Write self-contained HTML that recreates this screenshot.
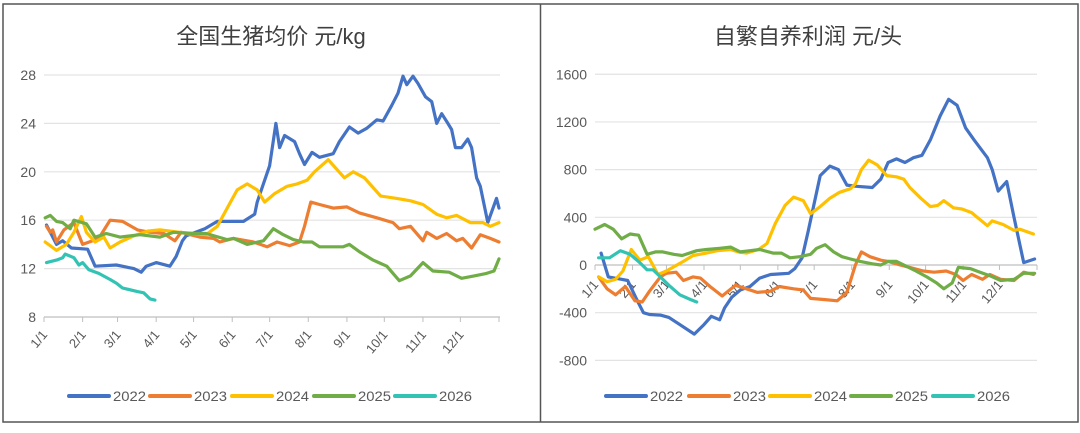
<!DOCTYPE html>
<html><head><meta charset="utf-8">
<style>
body{margin:0;background:#fff;}
svg text{font-family:"Liberation Sans","Noto Sans CJK SC",sans-serif;}
</style></head>
<body>
<svg id="c" width="1080" height="428" xmlns="http://www.w3.org/2000/svg">
<rect x="3" y="4" width="1075" height="418" fill="#fff" stroke="#555" stroke-width="1.5"/>
<line x1="540.5" y1="4" x2="540.5" y2="422" stroke="#555" stroke-width="1.5"/>
<text x="271" y="44" text-anchor="middle" font-size="22" fill="#404040">全国生猪均价 元/kg</text>
<text x="808" y="44" text-anchor="middle" font-size="22" fill="#404040">自繁自养利润 元/头</text>
<g id="L"></g><g id="R"></g>
</svg>
<script>
const months = ["1/1","2/1","3/1","4/1","5/1","6/1","7/1","8/1","9/1","10/1","11/1","12/1"];
const years = ["2022","2023","2024","2025","2026"];
const colors = ["#4472C4","#ED7D31","#FFC000","#70AD47","#33C3B5"];
const leftTicks = [8,12,16,20,24,28];
const rightTicks = [-800,-400,0,400,800,1200,1600];

const pD2022=[2,6,10,15,22,35,41,58,72,78,82,90,101,106,111,114,129,139,160,169,171,176,181,186,189,193,201,205,209,215,221,232,237,245,252,259,267,272,279,284,288,291,296,300,306,311,315,319,324,327,330,335,340,343,347,350,356,363,365];
const pV2022=[15.6,14.8,14.0,14.3,13.7,13.6,12.2,12.3,12.0,11.7,12.2,12.5,12.2,13.0,14.3,14.7,15.3,15.9,15.9,16.5,17.5,19.0,20.5,24.0,22.0,23.0,22.5,21.5,20.6,21.6,21.2,21.5,22.5,23.7,23.2,23.6,24.3,24.2,25.5,26.5,27.9,27.2,27.9,27.3,26.2,25.8,24.0,24.8,24.0,23.5,22.0,22.0,22.7,22.0,19.5,18.8,15.8,17.8,17.0];
const pD2023=[2,5,7,10,16,24,31,39,44,53,63,75,85,96,105,110,125,136,141,152,168,179,187,197,205,209,214,221,232,243,253,267,280,285,294,304,307,315,323,331,336,343,350,358,365];
const pV2023=[15.5,15.0,15.2,14.2,15.2,15.8,14.0,14.3,14.5,16.0,15.9,15.2,15.0,14.9,14.3,15.0,14.6,14.5,14.2,14.5,14.2,13.8,14.2,13.9,14.2,15.5,17.5,17.3,17.0,17.1,16.6,16.2,15.8,15.3,15.5,14.3,15.0,14.5,14.9,14.3,14.5,13.7,14.8,14.5,14.2];
const pD2024=[1,10,18,24,30,34,41,48,53,61,72,83,93,109,120,130,139,147,155,163,171,177,185,195,203,211,217,228,235,241,248,257,270,283,294,304,315,323,331,342,352,358,365];
const pV2024=[14.2,13.5,14.0,15.0,16.3,15.0,14.2,14.6,13.7,14.2,14.7,15.1,15.2,15.0,14.9,14.8,15.5,17.0,18.5,19.0,18.5,17.5,18.2,18.8,19.0,19.3,20.0,21.0,20.2,19.5,20.0,19.5,18.0,17.8,17.6,17.3,16.5,16.2,16.4,15.8,15.8,15.5,15.8];
const pD2025=[1,5,10,15,21,24,34,41,50,61,77,93,104,120,130,147,152,163,176,184,192,200,208,215,221,240,245,253,264,275,285,294,304,312,325,335,345,355,361,365];
const pV2025=[16.2,16.4,15.9,15.8,15.3,16.0,15.7,14.6,14.9,14.6,14.8,14.6,15.0,14.9,14.9,14.4,14.5,14.0,14.3,15.3,14.8,14.4,14.2,14.2,13.8,13.8,14.0,13.4,12.7,12.2,11.0,11.4,12.5,11.8,11.7,11.2,11.4,11.6,11.8,12.8];
const pD2026=[2,10,15,17,24,28,31,36,44,53,58,63,75,80,85,89];
const pV2026=[12.5,12.7,12.9,13.2,12.9,12.3,12.5,11.9,11.6,11.1,10.8,10.4,10.1,10.0,9.5,9.4];

const fD2022=[5,11,22,27,34,40,45,54,61,70,82,90,96,103,107,113,120,128,136,145,153,160,165,171,176,186,194,201,208,216,229,236,242,249,256,263,270,277,285,292,299,306,313,324,328,333,340,346,354,363];
const fV2022=[100,-100,-120,-130,-280,-400,-415,-420,-440,-500,-580,-500,-430,-460,-360,-270,-210,-180,-110,-80,-75,-70,-30,60,280,750,830,800,670,660,650,720,860,890,860,900,920,1050,1250,1390,1340,1150,1050,900,800,620,700,400,20,50];
const fD2023=[3,10,17,25,33,39,45,54,59,67,73,81,87,95,105,116,125,134,145,152,164,172,178,190,200,208,215,220,227,236,242,252,260,271,280,290,298,304,311,320,326,335,346,354,362];
const fV2023=[-100,-200,-250,-180,-300,-310,-220,-100,-70,-60,-130,-100,-110,-180,-260,-170,-200,-230,-220,-180,-200,-210,-280,-290,-300,-230,0,110,70,40,30,0,-20,-50,-60,-50,-80,-130,-80,-120,-80,-120,-130,-60,-80];
const fD2024=[3,10,17,23,30,37,44,52,59,66,73,81,92,101,112,118,125,135,142,149,157,164,172,178,186,194,202,211,215,220,226,233,241,249,255,260,269,277,283,288,296,303,311,318,324,328,337,346,351,362];
const fV2024=[-100,-140,-120,-50,130,40,70,-80,-50,-10,30,80,100,120,130,110,100,130,180,350,500,570,540,430,490,560,610,640,680,800,880,840,750,740,720,650,560,490,500,540,480,470,440,380,330,370,340,290,300,260];
const fD2025=[0,8,15,22,29,36,43,50,56,65,72,84,92,103,112,120,128,136,147,154,161,169,178,183,190,197,204,211,219,229,236,242,249,257,265,274,282,288,295,300,310,318,326,335,346,354,363];
const fV2025=[300,340,300,220,260,250,90,110,110,90,80,120,130,140,150,110,120,130,100,100,60,70,90,140,170,110,70,50,30,10,0,30,30,-10,-50,-100,-150,-200,-150,-20,-30,-60,-90,-130,-120,-70,-70];
const fD2026=[3,12,21,29,37,43,48,54,61,70,79,84];
const fV2026=[60,60,120,90,20,-40,-40,-100,-170,-250,-290,-310];

const NS="http://www.w3.org/2000/svg";
function mk(parent,tag,attrs,txt){const e=document.createElementNS(NS,tag);for(const k in attrs)e.setAttribute(k,attrs[k]);if(txt!==undefined)e.textContent=txt;parent.appendChild(e);return e;}

function drawChart(gid,cfg){
  const g=document.getElementById(gid);
  cfg.ticks.forEach(t=>{
    const y=cfg.y(t);
    const gl=mk(g,'line',{x1:cfg.x0,x2:cfg.x1,y1:y,y2:y,stroke:(t===cfg.axisVal?'#bfbfbf':'#e3e3e3'),'stroke-width':1.2});
    
    
    const tl=mk(g,'text',{x:cfg.x0-8,y:y+5,'text-anchor':'end','font-size':14,fill:'#595959'},String(t));
    
    
  });
  const ay=cfg.y(cfg.axisVal);
  for(let i=0;i<=12;i++){
    const x=cfg.x(cfg.monthDay[i]);
    const tk=mk(g,'line',{x1:x,x2:x,y1:ay,y2:ay+5,stroke:'#bfbfbf','stroke-width':1});
    
    
    if(i<12){
      const lx=x+4, ly=ay+cfg.labOff;
      const xl=mk(g,'text',{x:lx,y:ly,'text-anchor':'end','font-size':13,fill:'#595959',transform:`rotate(-50 ${lx} ${ly})`},months[i]);
      
      
    }
  }
  cfg.series.forEach((s,si)=>{
    const pts=s.d.map((d,i)=>cfg.x(d).toFixed(1)+','+cfg.y(s.v[i]).toFixed(1)).join(' ');
    const pl=mk(g,'polyline',{points:pts,fill:'none',stroke:colors[si],'stroke-width':3.2,'stroke-linejoin':'round','stroke-linecap':'round'});
    
    
  });
  cfg.legendX.forEach((lx,i)=>{
    const ll=mk(g,'line',{x1:lx,x2:lx+40,y1:396,y2:396,stroke:colors[i],'stroke-width':4,'stroke-linecap':'round'});
    
    
    const lt=mk(g,'text',{x:lx+44,y:401,'font-size':14,fill:'#595959',textLength:33,lengthAdjust:'spacingAndGlyphs'},years[i]);
    
    
  });
}
const monthDay=[0,31,59,90,120,151,181,212,243,273,304,334,365];
drawChart('L',{
  x0:44,x1:500,x:d=>44+d*455/365,y:v=>317-(v-8)*12.1,ticks:leftTicks,axisVal:8,monthDay,labOff:18,
  series:[{d:pD2022,v:pV2022},{d:pD2023,v:pV2023},{d:pD2024,v:pV2024},{d:pD2025,v:pV2025},{d:pD2026,v:pV2026}],
  legendX:[69,150,232,314,395]
});
drawChart('R',{
  x0:595,x1:1037,x:d=>595+d*442/365,y:v=>265-v*0.1192,ticks:rightTicks,axisVal:0,monthDay,labOff:20,
  series:[{d:fD2022,v:fV2022},{d:fD2023,v:fV2023},{d:fD2024,v:fV2024},{d:fD2025,v:fV2025},{d:fD2026,v:fV2026}],
  legendX:[606,689,770,851,933]
});
</script>
</body></html>
